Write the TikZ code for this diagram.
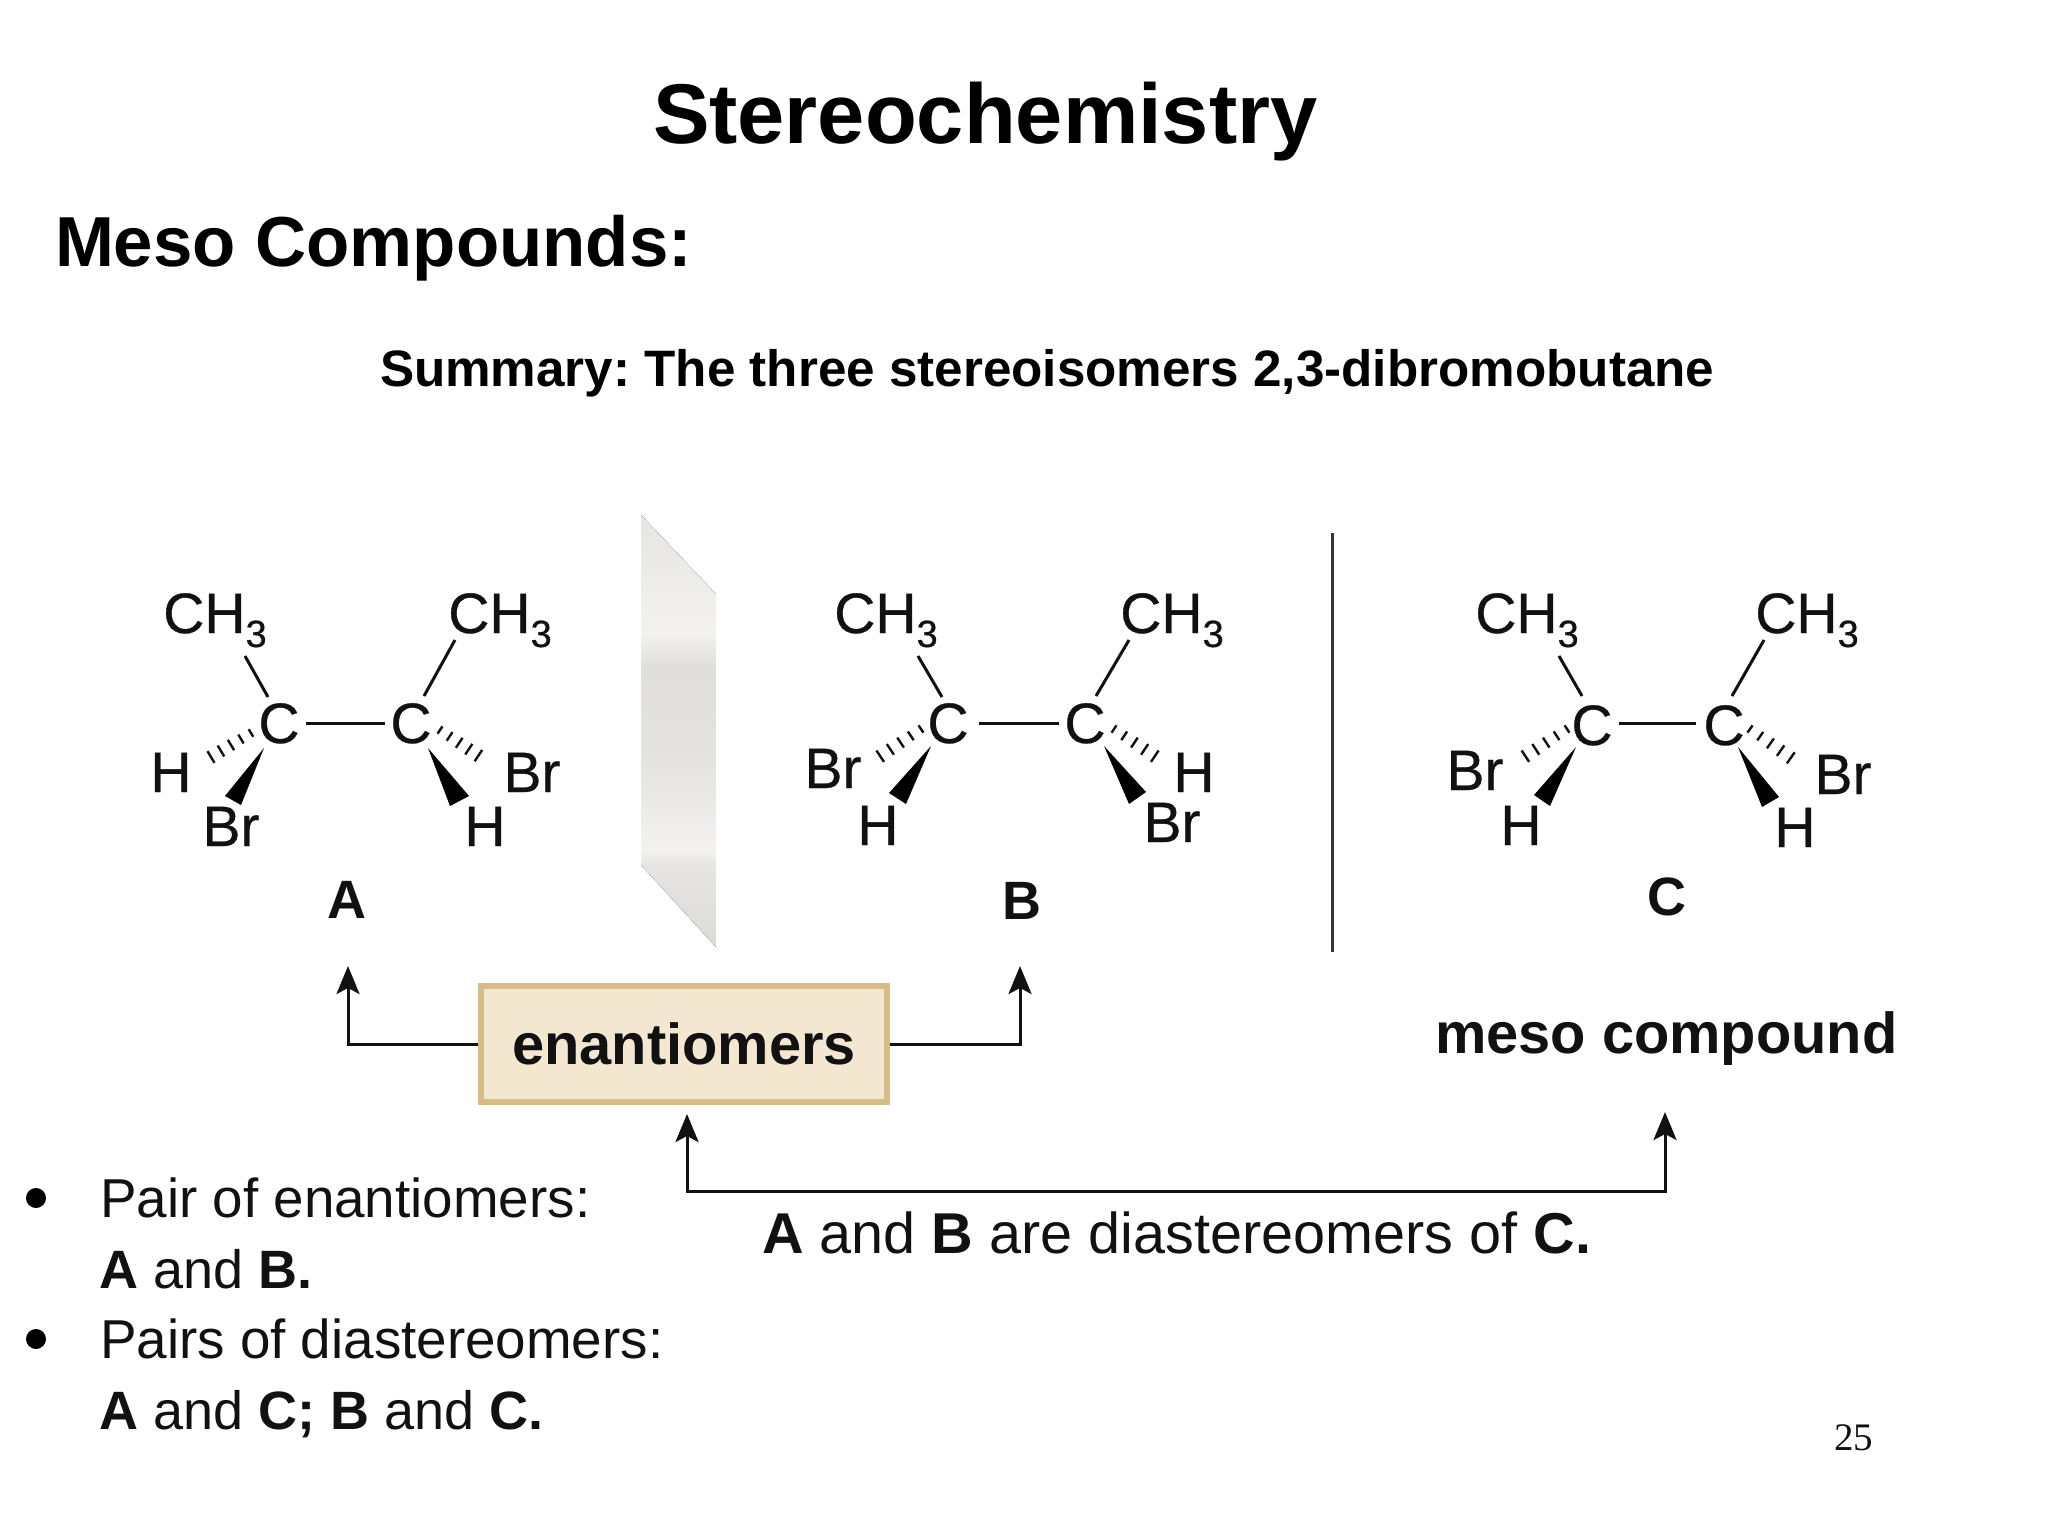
\documentclass[tikz,border=0pt]{standalone}
\usepackage{fontspec}
\setmainfont{Liberation Sans}
\newfontfamily\timesf{Liberation Serif}
\newfontfamily\atomf[FakeBold=0.5]{Liberation Sans}
\usetikzlibrary{calc,arrows.meta}
\frenchspacing
\newcommand\fsz[1]{\fontsize{#1}{#1}\selectfont}
\definecolor{ink}{HTML}{111111}
\definecolor{boxfill}{HTML}{F3E7D2}
\definecolor{boxedge}{HTML}{D6BC85}
\definecolor{mirA}{HTML}{E6E5E3}
\definecolor{mirB}{HTML}{F3F2F0}
\definecolor{mirC}{HTML}{DFDEDA}
\definecolor{mirD}{HTML}{E4E3DF}
\definecolor{mirE}{HTML}{DCDBD8}
\tikzset{
  txt/.style={inner sep=0pt,outer sep=0pt,anchor=base west,text=ink},
  atomtxt/.style={inner sep=3pt,outer sep=0pt,anchor=base,text=ink,font=\fsz{28.5}\atomf},
  lbl/.style={inner sep=0pt,anchor=base,text=ink,font=\fsz{27}\bfseries},
  bullettxt/.style={txt,font=\fsz{27.4}},
  bulletbold/.style={txt,font=\fsz{27}},
  bond/.style={draw=ink,line width=1.5pt},
  hash/.style={draw=ink,line width=1.2pt},
  wedge/.style={fill=black,draw=none},
  link/.style={draw=ink,line width=1.5pt,line join=miter},
  arrowlink/.style={link,-{Stealth[length=14pt,width=11.5pt,inset=3pt]}}
}
\newcommand\CHthree{CH\raisebox{-7pt}{\fsz{19}3}}
\newcommand\hashbond[2]{%
  \foreach \t/\h in {0/2.2pt,0.2/2.6pt,0.4/3pt,0.6/3.2pt,0.8/3.4pt,1/3.6pt}
    \draw[hash] ($(#1)!\t!(#2)!\h!90:(#2)$) -- ($(#1)!\t!(#2)!\h!-90:(#2)$);}
\begin{document}
\begin{tikzpicture}[x=0.5pt,y=-0.5pt]
\useasboundingbox (0,0) rectangle (2048,1536);

% Headings
\node[txt,font=\fsz{42.4}\bfseries,text=black] (title) at (653,143) {Stereochemistry};
\node[txt,font=\fsz{35.4}\bfseries,text=black] (meso) at (55,266) {Meso Compounds:};
\node[txt,font=\fsz{25.6}\bfseries,text=black] (summary) at (380,386) {Summary: The three stereoisomers 2,3-dibromobutane};

% Mirror plane
\begin{scope}
  \clip (641,515) -- (716,594) -- (716,947) -- (641,865) -- cycle;
  \fill[top color=mirA,bottom color=mirB] (641,515) rectangle (716,634);
  \fill[top color=mirB,bottom color=mirC] (641,633) rectangle (716,668);
  \fill[top color=mirC,bottom color=mirD] (641,667) rectangle (716,761);
  \fill[top color=mirD,bottom color=mirB] (641,760) rectangle (716,851);
  \fill[top color=mirB,bottom color=mirA] (641,850) rectangle (716,866);
  \fill[top color=mirA,bottom color=mirE] (641,865) rectangle (716,947);
\end{scope}

% Separator
\coordinate (septop) at (1332,533);
\coordinate (sepbot) at (1332,952);
\draw[draw=ink!85!white,line width=1.5pt] (septop) -- (sepbot);

% Molecule A
\node[atomtxt] (Am1) at (215,633) {\CHthree};
\node[atomtxt] (Am2) at (500,633) {\CHthree};
\node[atomtxt] (Ac1) at (279,743) {C};
\node[atomtxt] (Ac2) at (411,743) {C};
\node[atomtxt] (Ah1) at (171,792) {H};
\node[atomtxt] (Abr1) at (231,846) {Br};
\node[atomtxt] (Abr2) at (532,792) {Br};
\node[atomtxt] (Ah2) at (485,846) {H};
\node[lbl] (Alabel) at (347,918) {A};
\draw[bond] (306,723) coordinate (Aa) -- (385,723) coordinate (Ab);
\draw[bond] (245,656) coordinate (Ac) -- (268,697) coordinate (Ad);
\draw[bond] (455,640) coordinate (Ae) -- (424,696) coordinate (Af);
\coordinate (Ag) at (251,733); \coordinate (Ah) at (201,763); \hashbond{Ag}{Ah}
\coordinate (Ai) at (440,730); \coordinate (Aj) at (488,762); \hashbond{Ai}{Aj}
\fill[wedge] (264,748) -- (225,796) -- (241,805) -- cycle;
\fill[wedge] (428,748) -- (469,796) -- (450,806) -- cycle;

% Molecule B
\node[atomtxt] (Bm1) at (886,633) {\CHthree};
\node[atomtxt] (Bm2) at (1172,633) {\CHthree};
\node[atomtxt] (Bc1) at (948,743) {C};
\node[atomtxt] (Bc2) at (1085,743) {C};
\node[atomtxt] (Bbr1) at (833,788) {Br};
\node[atomtxt] (Bh1) at (878,845) {H};
\node[atomtxt] (Bh2) at (1194,792) {H};
\node[atomtxt] (Bbr2) at (1172,842) {Br};
\node[lbl] (Blabel) at (1022,919) {B};
\draw[bond] (979,723) coordinate (Ba) -- (1059,723) coordinate (Bb);
\draw[bond] (918,656) coordinate (Bc) -- (942,697) coordinate (Bd);
\draw[bond] (1129,640) coordinate (Be) -- (1096,696) coordinate (Bf);
\coordinate (Bg) at (921,729); \coordinate (Bh) at (870,763); \hashbond{Bg}{Bh}
\coordinate (Bi) at (1114,729); \coordinate (Bj) at (1165,763); \hashbond{Bi}{Bj}
\fill[wedge] (931,746) -- (889,793) -- (906,804) -- cycle;
\fill[wedge] (1104,746) -- (1146,792) -- (1129,804) -- cycle;

% Molecule C
\node[atomtxt] (Cm1) at (1527,633) {\CHthree};
\node[atomtxt] (Cm2) at (1807,633) {\CHthree};
\node[atomtxt] (Cc1) at (1592,745) {C};
\node[atomtxt] (Cc2) at (1724,745) {C};
\node[atomtxt] (Cbr1) at (1475,790) {Br};
\node[atomtxt] (Ch1) at (1521,845) {H};
\node[atomtxt] (Cbr2) at (1843,794) {Br};
\node[atomtxt] (Ch2) at (1795,847) {H};
\node[lbl] (Clabel) at (1667,915) {C};
\draw[bond] (1619,723) coordinate (Ca) -- (1696,723) coordinate (Cb);
\draw[bond] (1559,656) coordinate (Cc) -- (1582,696) coordinate (Cd);
\draw[bond] (1764,640) coordinate (Ce) -- (1732,696) coordinate (Cf);
\coordinate (Cg) at (1567,729); \coordinate (Ch) at (1515,763); \hashbond{Cg}{Ch}
\coordinate (Ci) at (1750,729); \coordinate (Cj) at (1801,765); \hashbond{Ci}{Cj}
\fill[wedge] (1576,747) -- (1534,795) -- (1550,806) -- cycle;
\fill[wedge] (1738,747) -- (1779,797) -- (1762,807) -- cycle;

% Enantiomers box and arrows
\node[draw=boxedge,fill=boxfill,line width=2.8pt,inner sep=0pt,minimum width=203pt,minimum height=58pt,text=ink,font=\fsz{28.9}\bfseries] (enant) at (684,1044) {enantiomers};
\node[txt,font=\fsz{28.9}\bfseries] (mesolabel) at (1435,1053) {meso compound};
\coordinate (toA) at (348,966);
\coordinate (toB) at (1020,966);
\coordinate (diaL) at (687,1114);
\coordinate (diaR) at (1665,1112);
\coordinate (diaY) at (0,1191);
\draw[arrowlink] (enant.west) -| (toA);
\draw[arrowlink] (enant.east) -| (toB);
\draw[link,{Stealth[length=14pt,width=11.5pt,inset=3pt]}-{Stealth[length=14pt,width=11.5pt,inset=3pt]}] (diaL) |- (diaY -| diaR) -- (diaR);
\node[txt,font=\fsz{28.8}] (dia) at (762,1253) {\textbf{A} and \textbf{B} are diastereomers of \textbf{C.}};

% Bullets
\fill[black] (36,1198) circle (10);
\fill[black] (36,1339) circle (10);
\node[bullettxt] (b1) at (100,1217) {Pair of enantiomers:};
\node[bulletbold] (b2) at (99,1288) {\textbf{A} and \textbf{B.}};
\node[bullettxt] (b3) at (100,1358) {Pairs of diastereomers:};
\node[bulletbold] (b4) at (99,1429) {\textbf{A} and \textbf{C; B} and \textbf{C.}};

% Page number
\node[txt,font=\fsz{19.5}\timesf] (page) at (1834,1450) {25};
\end{tikzpicture}
\end{document}
